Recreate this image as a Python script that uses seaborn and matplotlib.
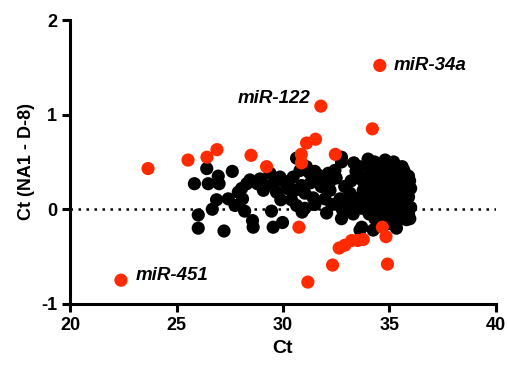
import pandas as pd
import matplotlib.pyplot as plt
import seaborn as sns

# Black points: all miRNAs (Ct, delta Ct)
black_ct = [
    26.42, 25.84, 26.49, 26.96, 27.62, 26.88, 27.43, 28.10, 27.75, 26.68,
    26.02, 28.20, 26.02, 27.23, 28.57, 28.60, 29.54, 29.46, 28.45, 28.06,
    28.92, 29.08, 29.39, 29.62, 29.70, 29.86, 29.98, 30.25, 30.48, 30.80,
    30.56, 30.88, 30.64, 31.23, 31.66, 32.13, 32.44, 32.20, 31.03, 31.42,
    31.97, 32.21, 30.64, 31.03, 32.05, 32.75, 32.75, 33.33, 33.43, 32.68,
    33.15, 33.07, 32.80, 32.75, 33.46, 33.77, 33.85, 33.70, 33.62, 34.24,
    34.32, 34.00, 35.33, 35.68, 35.96,
    31.10, 31.50, 31.90, 30.20, 30.00, 31.30, 31.80, 32.50, 32.90, 33.20,
    32.30, 33.30, 31.50, 30.40, 29.20, 28.80, 28.30, 27.00, 27.90, 29.90,
    30.90, 33.24, 33.70, 34.08, 33.55, 33.60, 33.75, 33.60,
    34.10, 34.30, 34.50, 34.70, 34.90, 35.10, 35.30, 35.50,
    34.00, 34.20, 34.40, 34.60, 34.80, 35.00, 35.20, 35.40, 35.60, 35.80,
    34.10, 34.30, 34.50, 34.70, 34.90, 35.10, 35.30, 35.50, 35.70, 35.90,
    34.00, 34.20, 34.40, 34.60, 34.80, 35.00, 35.20, 35.40, 35.60, 35.80, 36.00,
    34.30, 34.50, 34.70, 34.90, 35.10, 35.30, 35.50, 35.70, 35.90,
    34.60, 35.00, 35.40, 35.80,
    34.20, 34.80, 35.60, 35.90, 36.00, 35.70, 33.90, 33.90, 34.05, 35.20, 35.95,
]
black_dct = [
    0.43, 0.27, 0.27, 0.35, 0.40, 0.10, 0.11, 0.11, 0.04, 0.00,
    -0.06, -0.02, -0.20, -0.23, -0.12, -0.19, -0.19, -0.02, 0.31, 0.22,
    0.32, 0.20, 0.38, 0.29, 0.18, 0.34, -0.14, 0.29, 0.34, 0.41,
    0.20, 0.25, 0.54, 0.39, 0.36, 0.38, 0.41, 0.29, 0.17, 0.12,
    0.11, 0.20, 0.04, 0.01, -0.04, 0.55, 0.50, 0.49, 0.40, 0.11,
    0.17, 0.06, -0.01, -0.10, 0.02, 0.20, 0.02, -0.19, -0.22, -0.22,
    -0.10, 0.53, -0.20, 0.41, -0.10,
    0.45, 0.40, 0.33, 0.22, 0.30, 0.28, 0.24, 0.33, 0.24, 0.30,
    0.05, -0.05, 0.05, 0.10, 0.25, 0.27, 0.27, 0.27, 0.18, 0.10,
    -0.03, 0.06, 0.01, -0.01, 0.35, 0.45, 0.30, 0.12,
    0.45, 0.50, 0.47, 0.44, 0.48, 0.42, 0.45, 0.38,
    0.35, 0.30, 0.38, 0.33, 0.36, 0.30, 0.34, 0.28, 0.31, 0.25,
    0.22, 0.18, 0.25, 0.20, 0.23, 0.17, 0.21, 0.16, 0.19, 0.13,
    0.10, 0.05, 0.12, 0.08, 0.03, 0.10, 0.06, 0.11, 0.04, 0.08, 0.02,
    -0.03, -0.06, -0.02, -0.08, -0.04, -0.07, -0.03, -0.08, -0.05,
    -0.13, -0.15, -0.12, -0.11,
    0.42, 0.52, 0.45, 0.35, 0.22, 0.12, 0.28, 0.15, -0.05, 0.50, 0.30,
]

# Red points: differentially expressed miRNAs
red_ct = [
    34.55, 31.78, 34.20, 22.39, 23.66, 25.54, 26.43, 26.90, 28.50, 29.23,
    31.11, 31.53, 30.86, 30.87, 32.46, 30.75, 34.67, 34.84, 32.64, 32.91,
    33.23, 33.51, 33.77, 32.33, 34.91, 31.17,
]
red_dct = [
    1.52, 1.09, 0.85, -0.75, 0.43, 0.52, 0.55, 0.63, 0.57, 0.45,
    0.70, 0.74, 0.58, 0.49, 0.58, -0.19, -0.19, -0.29, -0.41, -0.38,
    -0.33, -0.33, -0.32, -0.59, -0.58, -0.77,
]

labels = ['miR-34a', 'miR-122', 'miR-451']
label_x = [35.2, 31.3, 23.1]
label_y = [1.52, 1.17, -0.70]
label_ha = ['left', 'right', 'left']

black = pd.DataFrame({'Ct': black_ct, 'dCt': black_dct})
red = pd.DataFrame({'Ct': red_ct, 'dCt': red_dct})

sns.set_style('ticks')
plt.rcParams['font.family'] = ['Liberation Sans', 'DejaVu Sans']
plt.rcParams['axes.unicode_minus'] = False
for key in ['text.color', 'axes.labelcolor', 'xtick.color', 'ytick.color', 'axes.edgecolor']:
    plt.rcParams[key] = 'black'

fig, ax = plt.subplots(figsize=(5.08, 3.71), dpi=100)
fig.subplots_adjust(left=0.138, right=0.976, bottom=0.181, top=0.946)

ax.hlines(0, 20, 40, colors='black', linestyles=(0, (1, 2.2)), linewidth=1.8, zorder=1)

sns.scatterplot(data=black, x='Ct', y='dCt', color='black', s=90,
                edgecolor='none', ax=ax, zorder=2)
sns.scatterplot(data=red, x='Ct', y='dCt', color='#ff2a00', s=90,
                edgecolor='none', ax=ax, zorder=3)

for lab, lx, ly, ha in zip(labels, label_x, label_y, label_ha):
    ax.text(lx, ly, lab, ha=ha, va='center', fontsize=13.5,
            fontweight='bold', fontstyle='italic')

ax.set_xlim(20, 40)
ax.set_ylim(-1, 2)
ax.set_xticks([20, 25, 30, 35, 40])
ax.set_yticks([-1, 0, 1, 2])
ax.set_xlabel('Ct', fontsize=14, fontweight='bold')
ax.set_ylabel('Ct (NA1 - D-8)', fontsize=13, fontweight='bold')

sns.despine(ax=ax)
for side in ['left', 'bottom']:
    ax.spines[side].set_linewidth(2.2)
ax.tick_params(width=2.2, length=6, labelsize=13)
for t in ax.get_xticklabels() + ax.get_yticklabels():
    t.set_fontweight('bold')

plt.savefig('out.png', dpi=100)
